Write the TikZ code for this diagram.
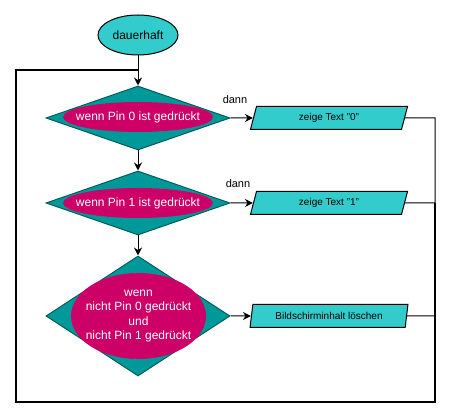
\documentclass[tikz,border=0pt]{standalone}
\usepackage{fontspec}
\setmainfont{Liberation Sans}
\usetikzlibrary{shapes.geometric,arrows.meta}
\definecolor{tuerkis}{HTML}{33CCCC}
\definecolor{petrol}{HTML}{009999}
\definecolor{beere}{HTML}{CC0066}
\begin{document}
\begin{tikzpicture}[x=1pt,y=-1pt,line width=1pt,
	start/.style={ellipse,draw,fill=tuerkis,minimum width=80pt,minimum height=40pt,inner sep=0pt,font=\fontsize{12}{14}\selectfont},
	frage/.style={diamond,draw=petrol!60!black,fill=petrol,minimum width=184pt,minimum height=#1,inner sep=0pt},
	bedingung/.style={ellipse,fill=beere,inner sep=0pt,label={[text=white,align=center,font=\fontsize{12}{14.5}\selectfont]center:#1}},
	ausgabe/.style={trapezium,trapezium left angle=75,trapezium right angle=105,trapezium stretches=true,draw,fill=tuerkis,minimum width=158pt,minimum height=23pt,inner sep=0pt,font=\fontsize{10}{12}\selectfont},
	pfeil/.style={-{Stealth[length=8pt,width=8pt]}},
	schleife/.style={line width=2.5pt}]
	\useasboundingbox (0,0) rectangle (451,419);
	\node[start] (start) at (138,35) {dauerhaft};
	\node[frage=64pt] (F0) at (138,118) {};
	\node[bedingung={wenn Pin 0 ist gedrückt},minimum width=150pt,minimum height=30pt] (B0) at (138,117) {};
	\node[frage=64pt] (F1) at (138,203) {};
	\node[bedingung={wenn Pin 1 ist gedrückt},minimum width=150pt,minimum height=30pt] (B1) at (138,203) {};
	\node[frage=120pt] (F2) at (138,316) {};
	\node[bedingung={wenn\\nicht Pin 0 gedrückt\\und\\nicht Pin 1 gedrückt},minimum width=135pt,minimum height=86pt] (B2) at (138.5,316) {};
	\node[ausgabe] (A0) at (329,118) {zeige Text "0"};
	\node[ausgabe] (A1) at (329,203) {zeige Text "1"};
	\node[ausgabe] (A2) at (329,316) {Bildschirminhalt löschen};
	\node[font=\fontsize{11}{13}\selectfont] (dann0) at (235,100) {dann};
	\node[font=\fontsize{11}{13}\selectfont] (dann1) at (238,184) {dann};
	\path (138,70) coordinate (L)
	(435,118) coordinate (R0)
	(435,203) coordinate (R1)
	(435,316) coordinate (R2)
	(435,402) coordinate (E1)
	(16,402) coordinate (E2)
	(16,70) coordinate (E3);
	\draw[pfeil] (start) -- (F0);
	\draw[pfeil] (F0) -- (F1);
	\draw[pfeil] (F1) -- (F2);
	\draw[pfeil] (F0) -- (A0);
	\draw[pfeil] (F1) -- (A1);
	\draw[pfeil] (F2) -- (A2);
	\draw (A0.east) -- (R0) -- (R1) (A1.east) -- (R1) (A2.east) -- (R2);
	\draw[schleife] (R1) -- (E1) -- (E2) -- (E3) -- (L);
\end{tikzpicture}
\end{document}
